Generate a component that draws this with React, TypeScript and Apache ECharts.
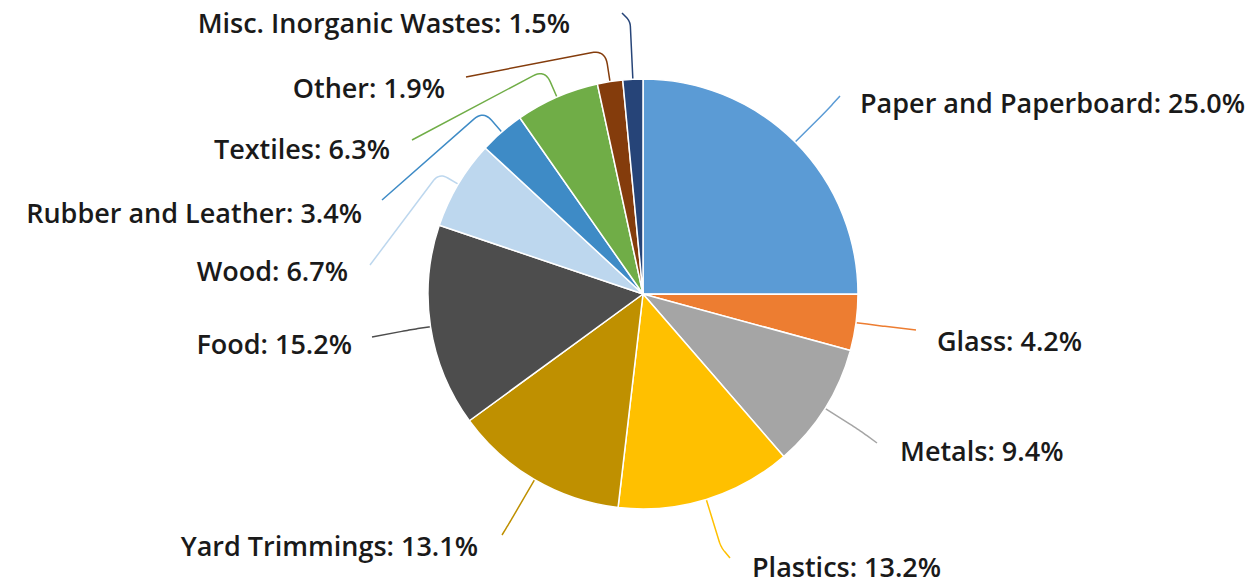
import React, { useEffect, useRef } from "react";
import * as echarts from "echarts";

const categories = [
  "Paper and Paperboard",
  "Glass",
  "Metals",
  "Plastics",
  "Yard Trimmings",
  "Food",
  "Wood",
  "Rubber and Leather",
  "Textiles",
  "Other",
  "Misc. Inorganic Wastes",
];
const shares = [25.0, 4.2, 9.4, 13.2, 13.1, 15.2, 6.7, 3.4, 6.3, 1.9, 1.5];
const sliceColors = [
  "#5B9BD5",
  "#ED7D31",
  "#A5A5A5",
  "#FFC000",
  "#BF9000",
  "#4D4D4D",
  "#BDD7EE",
  "#3E8BC6",
  "#70AD47",
  "#843C0C",
  "#264478",
];

// label placement (layout only)
const labelPlacement: { x: number; y: number; align: string; len: number; end: number[] }[] = [
  { x: 860, y: 102, align: "left", len: 45, end: [840, 96] },
  { x: 937, y: 340, align: "left", len: 20, end: [916, 330] },
  { x: 900, y: 450, align: "left", len: 40, end: [877, 443] },
  { x: 752, y: 566, align: "left", len: 50, end: [730, 558] },
  { x: 478, y: 545, align: "right", len: 50, end: [502, 535] },
  { x: 352, y: 343, align: "right", len: 20, end: [372, 337] },
  { x: 348, y: 270, align: "right", len: 22, end: [370, 265] },
  { x: 362, y: 212, align: "right", len: 28, end: [382, 200] },
  { x: 390, y: 148, align: "right", len: 30, end: [412, 140] },
  { x: 445, y: 87, align: "right", len: 32, end: [466, 77] },
  { x: 570, y: 22, align: "right", len: 58, end: [622, 13] },
];

function roundedCorner(p0: number[], p1: number[], p2: number[]): number[][] {
  const d1 = Math.hypot(p1[0] - p0[0], p1[1] - p0[1]) || 1;
  const d2 = Math.hypot(p2[0] - p1[0], p2[1] - p1[1]) || 1;
  const r = Math.min(d1 * 0.45, d2 * 0.45, 16);
  const a = [p1[0] - ((p1[0] - p0[0]) / d1) * r, p1[1] - ((p1[1] - p0[1]) / d1) * r];
  const b = [p1[0] + ((p2[0] - p1[0]) / d2) * r, p1[1] + ((p2[1] - p1[1]) / d2) * r];
  const pts: number[][] = [p0, a];
  const n = 10;
  for (let k = 1; k < n; k++) {
    const t = k / n;
    const mt = 1 - t;
    pts.push([
      mt * mt * a[0] + 2 * mt * t * p1[0] + t * t * b[0],
      mt * mt * a[1] + 2 * mt * t * p1[1] + t * t * b[1],
    ]);
  }
  pts.push(b, p2);
  return pts;
}

export default function App() {
  const ref = useRef<HTMLDivElement>(null);
  useEffect(() => {
    if (!ref.current) return;
    const chart = echarts.init(ref.current, null, { renderer: "svg" });
    chart.setOption({
      animation: false,
      backgroundColor: "#ffffff",
      series: [
        {
          type: "pie",
          center: [643, 294],
          radius: 215,
          startAngle: 90,
          clockwise: true,
          avoidLabelOverlap: false,
          data: categories.map((name, i) => ({
            name,
            value: shares[i],
            itemStyle: { color: sliceColors[i] },
          })),
          itemStyle: { borderColor: "#ffffff", borderWidth: 1.5 },
          label: {
            show: true,
            formatter: (p: any) => `${p.name}: ${Number(p.value).toFixed(1)}%`,
            fontFamily: "Open Sans",
            fontWeight: 600,
            fontSize: 27,
            color: "#1a1a1a",
          },
          labelLine: {
            show: true,
            length: 10,
            length2: 10,
            lineStyle: { width: 1.5 },
          },
          labelLayout: (params: any) => {
            const p = labelPlacement[params.dataIndex];
            const pts = params.labelLinePoints;
            let line: number[][] | undefined;
            if (pts && pts.length >= 2) {
              const [x0, y0] = pts[0];
              const [x1, y1] = pts[1];
              const d = Math.hypot(x1 - x0, y1 - y0) || 1;
              const ux = (x1 - x0) / d;
              const uy = (y1 - y0) / d;
              line = roundedCorner([x0, y0], [x0 + ux * p.len, y0 + uy * p.len], p.end);
            }
            return {
              x: p.x,
              y: p.y,
              align: p.align,
              verticalAlign: "middle",
              labelLinePoints: line,
            };
          },
        },
      ],
    });
    return () => chart.dispose();
  }, []);
  return (
    <div
      ref={ref}
      style={{ position: "fixed", left: 0, top: 0, width: 1260, height: 583 }}
    />
  );
}
